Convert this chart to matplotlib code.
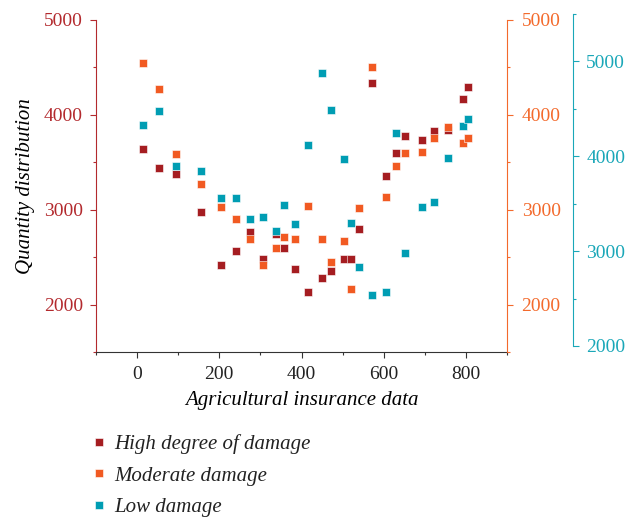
"""Scatter of damage levels against agricultural insurance data, three y-axes."""

import matplotlib.pyplot as plt
from matplotlib.lines import Line2D
from matplotlib.ticker import MultipleLocator

# Data
insurance = [15, 54, 95, 155, 205, 241, 274, 307, 339, 358, 385, 415, 451,
             471, 503, 520, 539, 571, 606, 630, 652, 694, 722, 756, 792, 804]
high_damage = [3638, 3445, 3374, 2980, 2420, 2568, 2769, 2479, 2747, 2596,
               2374, 2131, 2283, 2353, 2476, 2476, 2796, 4335, 3360, 3603,
               3775, 3730, 3831, 3840, 4169, 4289]
moderate_damage = [4543, 4275, 3588, 3271, 3028, 2906, 2687, 2420, 2596,
                   2712, 2694, 3036, 2694, 2452, 2669, 2159, 3015, 4507,
                   3138, 3458, 3603, 3606, 3754, 3873, 3708, 3754]
low_damage = [4330, 4477, 3895, 3845, 3555, 3555, 3340, 3361, 3214, 3487,
              3287, 4119, 4874, 4484, 3976, 3292, 2832, 2537, 2565, 4245,
              2979, 3466, 3516, 3979, 4323, 4397]
labels = ['High degree of damage', 'Moderate damage', 'Low damage']

RED = '#a51d21'
ORANGE = '#f15a22'
TEAL = '#009db3'
RED_AX = '#b32a2e'
ORANGE_AX = '#f36a2c'
TEAL_AX = '#1aa7b8'

plt.rcParams['font.family'] = ['Liberation Serif', 'DejaVu Serif']
plt.rcParams['font.size'] = 14

W, H = 628, 517
fig = plt.figure(figsize=(W / 100, H / 100), dpi=100)
left, right, top, bottom = 96, 507, 20, 352
rect = [left / W, 1 - bottom / H, (right - left) / W, (bottom - top) / H]

ax = fig.add_axes(rect)
ax_orange = ax.twinx()
# teal axis sits slightly higher than the main frame
rect_teal = [rect[0], rect[1] + 6 / H, rect[2], rect[3]]
ax_teal = fig.add_axes(rect_teal)
ax_teal.patch.set_visible(False)

mk = dict(marker='s', linestyle='none', markersize=6.2,
          markeredgecolor='white', markeredgewidth=0.4)
ax.plot(insurance, high_damage, color=RED, **mk)
ax_orange.plot(insurance, moderate_damage, color=ORANGE, **mk)
ax_teal.plot(insurance, low_damage, color=TEAL, **mk)

for a in (ax, ax_orange, ax_teal):
    a.set_xlim(-100, 900)
ax.set_ylim(1500, 5000)
ax_orange.set_ylim(1500, 5000)
ax_teal.set_ylim(2000, 5500)

# Main axes: bottom and left spines
ax.spines['top'].set_visible(False)
ax.spines['right'].set_visible(False)
ax.spines['left'].set_color(RED_AX)
ax.spines['bottom'].set_color('#333333')
ax.xaxis.set_major_locator(MultipleLocator(200))
ax.xaxis.set_minor_locator(MultipleLocator(100))
ax.yaxis.set_major_locator(MultipleLocator(1000))
ax.yaxis.set_minor_locator(MultipleLocator(500))
ax.tick_params(axis='x', which='major', length=4, width=0.8,
               color='#333333', labelcolor='#222222', pad=6)
ax.tick_params(axis='x', which='minor', length=2.5, width=0.8,
               color='#333333')
ax.tick_params(axis='y', which='major', length=4.5, width=0.8,
               color=RED_AX, labelcolor=RED_AX, pad=5)
ax.tick_params(axis='y', which='minor', length=2.5, width=0.8,
               color=RED_AX)
ax.set_xlabel('Agricultural insurance data', style='italic', fontsize=15,
              labelpad=6)
ax.set_ylabel('Quantity distribution', style='italic', fontsize=15,
              labelpad=6)

# Orange axis on the right edge
for side in ('top', 'left', 'bottom'):
    ax_orange.spines[side].set_visible(False)
ax_orange.spines['right'].set_color(ORANGE_AX)
ax_orange.yaxis.set_major_locator(MultipleLocator(1000))
ax_orange.yaxis.set_minor_locator(MultipleLocator(500))
ax_orange.tick_params(axis='y', which='major', length=4.5, width=0.8,
                      color=ORANGE_AX, labelcolor=ORANGE_AX, pad=6)
ax_orange.tick_params(axis='y', which='minor', length=2.5, width=0.8,
                      color=ORANGE_AX)

# Teal axis offset further right
for side in ('top', 'left', 'bottom'):
    ax_teal.spines[side].set_visible(False)
ax_teal.spines['right'].set_position(('axes', (573 - left) / (right - left)))
ax_teal.spines['right'].set_color(TEAL_AX)
ax_teal.xaxis.set_visible(False)
ax_teal.yaxis.tick_right()
ax_teal.yaxis.set_major_locator(MultipleLocator(1000))
ax_teal.yaxis.set_minor_locator(MultipleLocator(500))
ax_teal.tick_params(axis='y', which='major', length=4.5, width=0.8,
                    color=TEAL_AX, labelcolor=TEAL_AX, pad=5)
ax_teal.tick_params(axis='y', which='minor', length=2.5, width=0.8,
                    color=TEAL_AX)

# Legend below the plot
handles = [Line2D([], [], color=c, **mk) for c in (RED, ORANGE, TEAL)]
leg = fig.legend(handles, labels, loc='upper left',
                 bbox_to_anchor=(89 / W, 1 - 434 / H), frameon=False,
                 borderpad=0, borderaxespad=0, handlelength=1.0,
                 handletextpad=0.22, labelspacing=0.58, fontsize=15)
for t in leg.get_texts():
    t.set_style('italic')
    t.set_color('#222222')

fig.savefig('out.png', dpi=100)
